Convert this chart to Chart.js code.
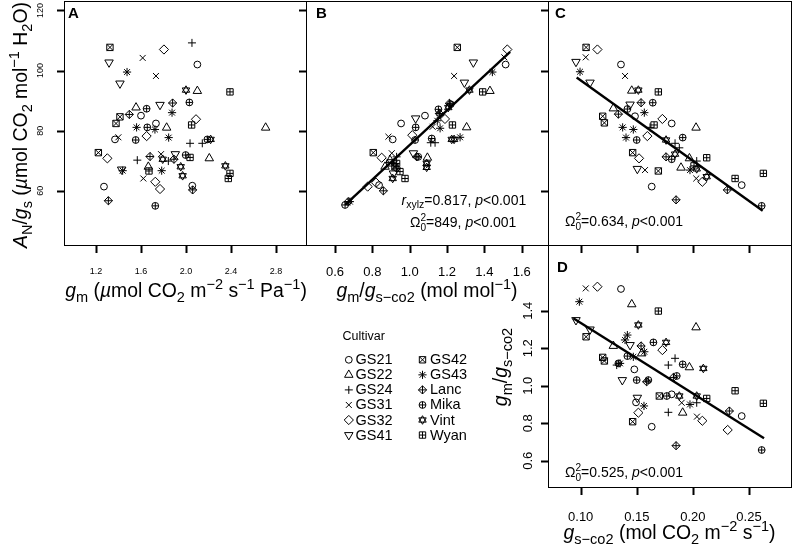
<!DOCTYPE html>
<html><head><meta charset="utf-8">
<script src="https://cdn.jsdelivr.net/npm/chart.js@4"></script>
<style>
html,body{margin:0;padding:0;background:#fff;}
#wrap{position:relative;width:793px;height:547px;overflow:hidden;background:#fff;}
#wrap canvas{position:absolute;left:0;top:0;}
</style></head><body>
<div id="wrap">
<canvas id="cA" width="793" height="547"></canvas>
<canvas id="cB" width="793" height="547"></canvas>
<canvas id="cC" width="793" height="547"></canvas>
<canvas id="cD" width="793" height="547"></canvas>
<canvas id="tickLayer" width="793" height="547"></canvas>
</div>
<script>
// ---------------- DATA ----------------
const cultivars = ['GS21','GS22','GS24','GS31','GS32','GS41','GS42','GS43','Lanc','Mika','Vint','Wyan'];

// tick values
const xTicksA = [1.2,1.6,2.0,2.4,2.8];
const yTicksAN = [60,80,100,120];
const xTicksB = [0.6,0.8,1.0,1.2,1.4,1.6];
const xTicksGs = [0.10,0.15,0.20,0.25];
const yTicksD = [0.6,0.8,1.0,1.2,1.4];

// Panel A: x = gm, y = AN/gs
const A_GS21 = [[1.600,85.0],[1.733,82.4],[1.369,77.1],[1.271,61.4],[2.056,61.7],[2.101,102.0]];
const A_GS22 = [[1.556,87.7],[1.828,81.0],[2.101,93.2],[2.207,70.8],[2.708,81.0],[1.665,68.0]];
const A_GS24 = [[2.053,109.2],[2.036,75.8],[2.145,75.8],[1.567,70.2],[1.843,69.9]];
const A_GS31 = [[1.615,104.2],[1.733,98.2],[1.399,77.8],[1.778,72.2],[1.621,64.1]];
const A_GS32 = [[1.804,107.0],[2.089,83.8],[1.650,78.2],[1.301,70.8],[1.727,63.0],[1.769,60.6]];
const A_GS41 = [[1.316,102.7],[1.413,95.7],[1.769,88.6],[1.905,72.2],[1.428,67.1]];
const A_GS42 = [[1.324,107.7],[1.413,84.6],[1.378,82.4],[1.221,72.7]];
const A_GS43 = [[1.476,99.5],[1.876,86.0],[1.561,81.1],[1.724,80.4],[1.846,77.7],[1.437,66.7],[1.784,66.7]];
const A_Lanc = [[1.881,89.2],[1.496,85.4],[1.680,71.4],[1.893,70.5],[2.059,60.3],[1.310,56.7]];
const A_Mika = [[2.030,89.4],[1.650,87.3],[1.656,81.1],[1.553,76.9],[2.190,77.1],[1.997,71.9],[1.727,55.0]];
const A_Vint = [[2.000,93.5],[2.219,77.1],[1.793,70.5],[1.953,68.0],[1.970,65.0],[2.350,68.3]];
const A_Wyan = [[2.391,92.9],[2.050,81.9],[2.036,71.1],[1.671,66.6],[2.391,65.8],[2.376,64.1]];

// Panel B: x = gm/gs-co2, y = AN/gs
const B_GS21 = [[1.514,102.0],[1.082,85.0],[0.954,82.4],[0.909,77.1],[0.836,61.9]];
const B_GS22 = [[1.430,93.2],[1.305,81.1],[1.095,71.0],[0.895,70.2],[0.868,68.0]];
const B_GS24 = [[1.113,76.0],[1.136,76.0],[0.930,71.3],[1.163,85.2]];
const B_GS31 = [[1.507,104.4],[1.238,98.2],[0.886,78.0],[0.904,72.5],[1.123,81.3]];
const B_GS32 = [[1.523,107.0],[1.189,83.9],[1.014,78.5],[0.850,71.0],[0.775,61.4],[0.820,62.7]];
const B_GS41 = [[1.341,102.7],[1.293,96.0],[1.032,84.1],[1.020,72.5],[0.913,65.8]];
const B_GS42 = [[1.255,107.7],[0.805,72.7],[0.921,68.0],[0.895,69.3]];
const B_GS43 = [[1.443,99.5],[1.163,80.8],[1.270,77.8],[1.148,83.3],[0.921,69.1],[0.680,56.4]];
const B_Lanc = [[1.213,89.1],[1.159,85.7],[1.038,71.3],[0.859,60.0],[0.671,56.4],[0.930,67.5]];
const B_Mika = [[1.220,88.8],[1.154,87.1],[1.032,81.1],[1.029,76.9],[1.118,77.4],[0.654,55.3],[1.046,71.3]];
const B_Vint = [[1.320,93.5],[1.225,77.1],[1.238,77.1],[1.091,69.1],[1.091,67.8],[0.909,64.1],[1.207,87.7]];
const B_Wyan = [[1.391,92.9],[1.229,81.9],[0.975,64.1],[0.930,69.1],[0.948,66.4]];
const B_fit = [[0.654,55.3],[1.538,106.2]];

// Panel C: x = gs-co2, y = AN/gs
const C_GS21 = [[0.1359,102.0],[0.1484,84.8],[0.1811,82.4],[0.2435,61.9],[0.1633,61.4]];
const C_GS22 = [[0.1455,93.3],[0.1291,87.4],[0.2028,81.0],[0.1969,70.8],[0.1894,67.7]];
const C_GS24 = [[0.1618,81.1],[0.1841,75.8],[0.1879,74.3],[0.2034,69.9]];
const C_GS31 = [[0.1045,104.4],[0.1395,98.2],[0.1573,66.9],[0.2030,64.1]];
const C_GS32 = [[0.1149,107.0],[0.1728,83.9],[0.1594,78.2],[0.1520,70.8],[0.2084,63.0]];
const C_GS41 = [[0.0958,102.9],[0.1083,96.0],[0.1440,88.7],[0.1505,67.3]];
const C_GS42 = [[0.1048,107.7],[0.1196,84.8],[0.1211,82.6],[0.1463,72.7],[0.1692,66.6]];
const C_GS43 = [[0.0994,99.6],[0.1567,86.0],[0.1374,81.1],[0.1469,80.4],[0.1404,77.7],[0.1974,66.9]];
const C_Lanc = [[0.1538,89.3],[0.1336,85.5],[0.1761,71.3],[0.2307,60.3],[0.1850,57.0]];
const C_Mika = [[0.1642,89.3],[0.1416,87.2],[0.1499,76.9],[0.1909,77.7],[0.1811,70.5],[0.2613,55.0]];
const C_Vint = [[0.1514,93.5],[0.1761,76.9],[0.1841,72.2],[0.2034,67.3],[0.2123,64.7]];
const C_Wyan = [[0.1692,92.9],[0.1654,81.9],[0.2123,71.0],[0.2010,68.3],[0.2376,64.1],[0.2628,65.8]];
const C_fit = [[0.0964,97.7],[0.2622,53.4]];

// Panel D: x = gs-co2, y = gm/gs-co2
const D_GS21 = [[0.1359,1.516],[0.1478,1.087],[0.1811,0.954],[0.1493,0.911],[0.2435,0.838],[0.1633,0.781]];
const D_GS22 = [[0.1455,1.434],[0.2028,1.311],[0.1291,1.212],[0.1544,1.172],[0.1969,1.098],[0.1909,0.856]];
const D_GS24 = [[0.1321,1.110],[0.1841,1.146],[0.1781,1.110],[0.2034,0.909],[0.1781,0.858]];
const D_GS31 = [[0.1045,1.519],[0.1900,0.909],[0.2036,0.835]];
const D_GS32 = [[0.1149,1.528],[0.1728,1.190],[0.1514,0.856],[0.2084,0.813],[0.2310,0.764]];
const D_GS41 = [[0.0958,1.350],[0.1083,1.300],[0.1440,1.217],[0.1371,1.030],[0.1505,0.936]];
const D_GS42 = [[0.1048,1.261],[0.1196,1.151],[0.1211,1.132],[0.1701,0.945],[0.1463,0.808]];
const D_GS43 = [[0.0988,1.448],[0.1416,1.270],[0.1395,1.244],[0.1567,1.181],[0.1469,1.154],[0.1351,1.119],[0.1564,0.892],[0.1974,0.900]];
const D_Lanc = [[0.1538,1.212],[0.1588,1.021],[0.1826,1.044],[0.2325,0.865],[0.1850,0.680]];
const D_Mika = [[0.1648,1.231],[0.1416,1.158],[0.1336,1.119],[0.1909,1.114],[0.1499,1.030],[0.1603,1.030],[0.1856,1.052],[0.1767,0.945],[0.2613,0.657]];
const D_Vint = [[0.1514,1.324],[0.1761,1.231],[0.2093,1.092],[0.1879,0.945],[0.2034,0.945]];
const D_Wyan = [[0.1692,1.398],[0.2376,0.973],[0.2123,0.932],[0.2628,0.906]];
const D_fit = [[0.0934,1.360],[0.2634,0.720]];

const panelA = [A_GS21,A_GS22,A_GS24,A_GS31,A_GS32,A_GS41,A_GS42,A_GS43,A_Lanc,A_Mika,A_Vint,A_Wyan];
const panelB = [B_GS21,B_GS22,B_GS24,B_GS31,B_GS32,B_GS41,B_GS42,B_GS43,B_Lanc,B_Mika,B_Vint,B_Wyan];
const panelC = [C_GS21,C_GS22,C_GS24,C_GS31,C_GS32,C_GS41,C_GS42,C_GS43,C_Lanc,C_Mika,C_Vint,C_Wyan];
const panelD = [D_GS21,D_GS22,D_GS24,D_GS31,D_GS32,D_GS41,D_GS42,D_GS43,D_Lanc,D_Mika,D_Vint,D_Wyan];

// ---------------- STYLE ----------------
const FONT = '"Liberation Sans", Arial, Helvetica, sans-serif';
const TITLE = 19.4;
const TICKLEN = 8;
const markerParts = [
  [['circle',3.4,0]],                     // GS21  open circle
  [['triangle',4.9,0]],                   // GS22  triangle up
  [['cross',4.0,0]],                      // GS24  plus
  [['crossRot',4.2,0]],                   // GS31  x
  [['rectRot',4.6,0]],                    // GS32  diamond
  [['triangle',4.9,180]],                 // GS41  triangle down
  [['rect',4.5,0],['crossRot',4.5,0]],    // GS42  square with x
  [['star',4.1,0]],                       // GS43  asterisk
  [['rectRot',4.1,0],['cross',4.1,0]],    // Lanc  diamond with plus
  [['circle',3.4,0],['cross',3.4,0]],     // Mika  circle with plus
  [['triangle',4.3,0],['triangle',4.3,180]], // Vint star of David
  [['rect',4.5,0],['cross',3.2,0]]        // Wyan  square with plus
];

function rich(ctx, segs, x, y, size, align, rot){
  ctx.save(); ctx.translate(x,y); if(rot) ctx.rotate(rot);
  ctx.fillStyle='#000'; ctx.textBaseline='alphabetic'; ctx.textAlign='left';
  const parts = segs.map(s=>{
    const t=s[0], st=s[1]||'';
    if(st==='stk'){
      const fs=size*0.72; ctx.font=`${fs}px ${FONT}`;
      const w=Math.max(ctx.measureText(t[0]).width, ctx.measureText(t[1]).width);
      return {stk:true,t,fs,w};
    }
    let fs=size, dy=0; const it = st.indexOf('i')===0;
    if(st.indexOf('sub')>=0){fs=size*0.75; dy=size*0.24;}
    if(st.indexOf('sup')>=0){fs=size*0.75; dy=-size*0.42;}
    const f=`${it?'italic ':''}${fs}px ${FONT}`; ctx.font=f;
    return {t,f,dy,w:ctx.measureText(t).width};
  });
  const total = parts.reduce((a,p)=>a+p.w,0);
  let cx = align==='center' ? -total/2 : (align==='right' ? -total : 0);
  parts.forEach(p=>{
    if(p.stk){ ctx.font=`${p.fs}px ${FONT}`; ctx.fillText(p.t[0],cx,-size*0.42); ctx.fillText(p.t[1],cx,size*0.3); }
    else { ctx.font=p.f; ctx.fillText(p.t,cx,p.dy); }
    cx+=p.w;
  });
  ctx.restore();
}

const titleAx = [['g','i'],['m','sub'],[' (',''],['µ','i'],['mol CO',''],['2','sub'],[' m',''],['−2','sup'],[' s',''],['−1','sup'],[' Pa',''],['−1','sup'],[')','']];
const titleAy = [['A','i'],['N','sub'],['/',''],['g','i'],['s','sub'],[' (',''],['µ','i'],['mol CO',''],['2','sub'],[' mol',''],['−1','sup'],[' H',''],['2','sub'],['O)','']];
const titleBx = [['g','i'],['m','sub'],['/',''],['g','i'],['s−co2','sub'],[' (mol mol',''],['−1','sup'],[')','']];
const titleDy = [['g','i'],['m','sub'],['/',''],['g','i'],['s−co2','sub']];
const titleDx = [['g','i'],['s−co2','sub'],[' (mol CO',''],['2','sub'],[' m',''],['−2','sup'],[' s',''],['−1','sup'],[')','']];
const annB1 = [['r','i'],['xylz','sub'],['=0.817, ',''],['p','i'],['<0.001','']];
const annB2 = [['Ω',''],[['2','0'],'stk'],['=849, ',''],['p','i'],['<0.001','']];
const annC = [['Ω',''],[['2','0'],'stk'],['=0.634, ',''],['p','i'],['<0.001','']];
const annD = [['Ω',''],[['2','0'],'stk'],['=0.525, ',''],['p','i'],['<0.001','']];

function box(ctx,a){
  const l=Math.round(a.left), t=Math.round(a.top), r=Math.round(a.right), b=Math.round(a.bottom);
  ctx.save(); ctx.fillStyle='#000';
  ctx.fillRect(l,t,r-l+1,1); ctx.fillRect(l,b,r-l+1,1);
  ctx.fillRect(l,t,1,b-t+1); ctx.fillRect(r,t,1,b-t+1);
  ctx.restore();
}
function xLabels(ctx, sc, labelY, size, dec){
  ctx.save(); ctx.fillStyle='#000'; ctx.textAlign='center'; ctx.textBaseline='middle'; ctx.font=`${size}px ${FONT}`;
  for(const t of sc.ticks) ctx.fillText(t.value.toFixed(dec), sc.getPixelForValue(t.value), labelY);
  ctx.restore();
}
function yLabels(ctx, sc, labelX, size, dec){
  ctx.save(); ctx.fillStyle='#000'; ctx.textAlign='center'; ctx.textBaseline='middle'; ctx.font=`${size}px ${FONT}`;
  for(const t of sc.ticks){ ctx.save(); ctx.translate(labelX, sc.getPixelForValue(t.value)); ctx.rotate(-Math.PI/2); ctx.fillText(t.value.toFixed(dec),0,0); ctx.restore(); }
  ctx.restore();
}
function letter(ctx,s,x,y){
  ctx.save(); ctx.font=`bold 15px ${FONT}`; ctx.fillStyle='#000'; ctx.textAlign='left'; ctx.textBaseline='alphabetic';
  ctx.fillText(s,x,y); ctx.restore();
}
function legendMarker(ctx, i, x, y){
  markerParts[i].forEach(([st,r,rot])=>{
    ctx.save(); ctx.strokeStyle='#000'; ctx.fillStyle='rgba(0,0,0,0)'; ctx.lineWidth=1;
    Chart.helpers.drawPoint(ctx, {pointStyle:st, radius:r, rotation:rot, borderWidth:1}, x, y);
    ctx.restore();
  });
}
function legend(ctx){
  ctx.save(); ctx.fillStyle='#000'; ctx.textBaseline='middle'; ctx.textAlign='left';
  ctx.font=`12.5px ${FONT}`; ctx.fillText('Cultivar',342.5,337);
  ctx.font=`14.5px ${FONT}`;
  cultivars.forEach((n,i)=>{
    const col=Math.floor(i/6), row=i%6;
    const mx = col? 422.5 : 348.8, tx = col? 430 : 355.5, y = 359.8 + row*15.05;
    legendMarker(ctx, i, mx, y);
    ctx.fillStyle='#000';
    ctx.fillText(n, tx, y+0.5);
  });
  ctx.restore();
}

function makeChart(id, area, xr, yr, xt, yt, sets, fit, decor){
  const ds=[];
  if(fit) ds.push({data: fit.map(p=>({x:p[0],y:p[1]})), showLine:true, borderColor:'#000', borderWidth:2.4, pointRadius:0, order:-1});
  sets.forEach((pts,i)=>{
    markerParts[i].forEach(([st,r,rot])=>{
      ds.push({data: pts.map(p=>({x:p[0],y:p[1]})), pointStyle: st, pointRadius:r, pointHoverRadius:r,
               pointRotation:rot, pointBorderColor:'#000', pointBackgroundColor:'rgba(0,0,0,0)', pointBorderWidth:1, order:0});
    });
  });
  return new Chart(document.getElementById(id), {
    type:'scatter', data:{datasets:ds},
    options:{responsive:false, animation:false, events:[],
      layout:{padding:{left:area[0], top:area[1], right:793-area[2], bottom:547-area[3]}, autoPadding:false},
      plugins:{legend:{display:false}, tooltip:{enabled:false}},
      scales:{
        x:{type:'linear', position:'bottom', min:xr[0], max:xr[1],
           afterBuildTicks:s=>{s.ticks=xt.map(v=>({value:v}));}, afterFit:s=>{s.height=0;},
           ticks:{display:false}, grid:{display:false}, border:{display:false}},
        y:{type:'linear', position:'left', min:yr[0], max:yr[1],
           afterBuildTicks:s=>{s.ticks=yt.map(v=>({value:v}));}, afterFit:s=>{s.width=0;},
           ticks:{display:false}, grid:{display:false}, border:{display:false}}
      }},
    plugins:[{id:'decor'+id, afterDraw:(c)=>{ box(c.ctx,c.chartArea); decor(c); }}]
  });
}

// panel areas [left, top, right, bottom]
const chA = makeChart('cA',[64,1,306,245],[0.9156,3.0667],[41.98,123.13],xTicksA,yTicksAN,panelA,null,(c)=>{
  const ctx=c.ctx; letter(ctx,'A',68,18);
  xLabels(ctx,c.scales.x,272,9,1); yLabels(ctx,c.scales.y,41,9,0);
  rich(ctx,titleAx,186,297,TITLE,'center',0);
  rich(ctx,titleAy,27,125,TITLE,'center',-Math.PI/2);
});
const chB = makeChart('cB',[306,1,548,245],[0.4447,1.7409],[41.98,123.13],xTicksB,yTicksAN,panelB,B_fit,(c)=>{
  const ctx=c.ctx; letter(ctx,'B',316,18);
  xLabels(ctx,c.scales.x,272,13,1);
  rich(ctx,titleBx,427,297,TITLE,'center',0);
  rich(ctx,annB1,401.5,205,14,'left',0);
  rich(ctx,annB2,410,226.5,14,'left',0);
  legend(ctx);
});
const chC = makeChart('cC',[548,1,791,245],[0.07086,0.28743],[41.98,123.13],xTicksGs,yTicksAN,panelC,C_fit,(c)=>{
  const ctx=c.ctx; letter(ctx,'C',555,18);
  rich(ctx,annC,565,225.5,14,'left',0);
});
const chD = makeChart('cD',[548,245,791,487],[0.07086,0.28743],[0.4597,1.7504],xTicksGs,yTicksD,panelD,D_fit,(c)=>{
  const ctx=c.ctx; letter(ctx,'D',557,272);
  xLabels(ctx,c.scales.x,517,13,2); yLabels(ctx,c.scales.y,528,13,1);
  rich(ctx,titleDx,669.5,539,TITLE,'center',0);
  rich(ctx,titleDy,507,367,TITLE,'center',-Math.PI/2);
  rich(ctx,annD,565,477,14,'left',0);
});

// tick marks (outward), positioned from each chart's own scales
(function(){
  const tc=document.getElementById('tickLayer').getContext('2d');
  tc.fillStyle='#000';
  [chA,chB,chC,chD].forEach(ch=>{
    const a=ch.chartArea, sx=ch.scales.x, sy=ch.scales.y;
    const b=Math.round(a.bottom), l=Math.round(a.left);
    xTicksFor(ch).forEach(v=>{const p=Math.round(sx.getPixelForValue(v)); tc.fillRect(p-0.5,b,2,TICKLEN);});
    yTicksFor(ch).forEach(v=>{const p=Math.round(sy.getPixelForValue(v)); tc.fillRect(l-TICKLEN+1,p-0.5,TICKLEN,2);});
  });
  function xTicksFor(ch){ return ch===chA?xTicksA:(ch===chB?xTicksB:xTicksGs); }
  function yTicksFor(ch){ return ch===chD?yTicksD:yTicksAN; }
})();
</script>
</body></html>
